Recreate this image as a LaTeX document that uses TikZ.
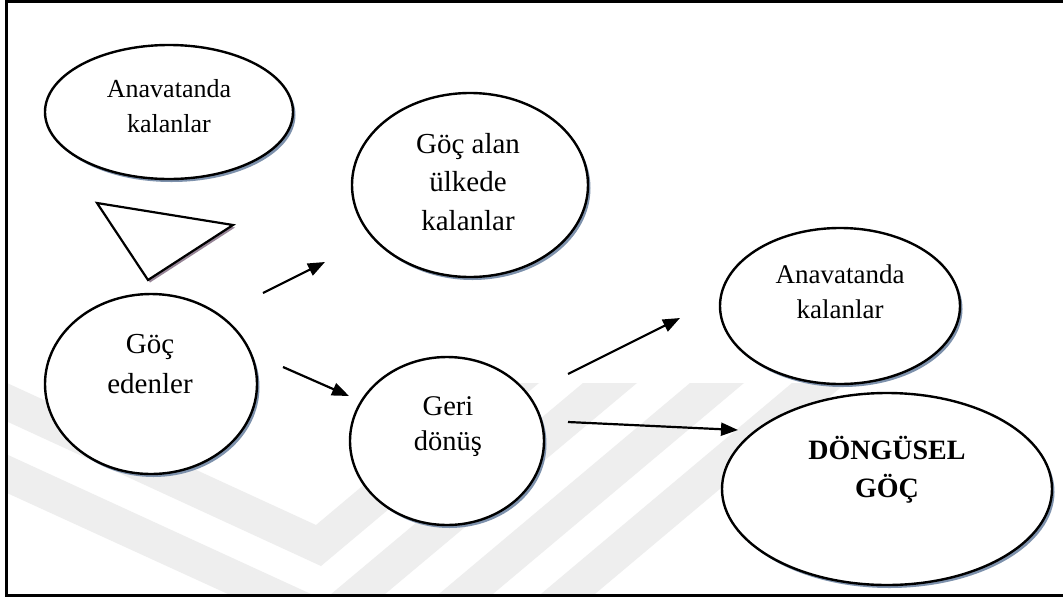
\documentclass[tikz,border=0pt]{standalone}
\usepackage{fontspec}
\setmainfont{Liberation Serif}
\usetikzlibrary{shapes.geometric,arrows.meta,shadows}
\definecolor{shadowc}{RGB}{125,145,172}
\definecolor{trishadow}{RGB}{150,132,150}
\definecolor{wmark}{RGB}{238,238,238}
\begin{document}
\begin{tikzpicture}[x=1pt,y=-1pt,
  bubble/.style={ellipse, draw, line width=2.4pt, fill=white, inner sep=0pt,
    drop shadow={shadow xshift=2.5pt, shadow yshift=-3pt, fill=shadowc, opacity=1}},
  lbl/.style={align=center, anchor=base, inner sep=0pt},
  arr/.style={line width=2.2pt, -{Triangle[length=17pt,width=13pt]}},
  wm/.style={fill=wmark, draw=none}]
\useasboundingbox (0,0) rectangle (1063,598);
\fill[white] (0,0) rectangle (1063,598);
% faint background watermark
\begin{scope}
\clip (8,383) rectangle (1062,594);
\fill[wm] (7,383) -- (316,525) -- (485,383) -- (539,383) -- (321,566) -- (7,421.5) -- cycle;
\fill[wm] (7,454.5) -- (324,600) -- (583,383) -- (637,383) -- (329.6,640.5) -- (7,493) -- cycle;
\fill[wm] (690,383) -- (744,383) -- (470.3,613) -- (416.3,613) -- cycle;
\fill[wm] (792,383) -- (846,383) -- (572.3,613) -- (518.3,613) -- cycle;
\end{scope}
% frame
\draw[line width=3pt] (6.5,1.5) rectangle (1070,595);
% ellipses
\node[bubble, minimum width=248pt, minimum height=134pt] (anavL) at (169,112) {};
\node[bubble, minimum width=236pt, minimum height=184pt] (gocalan) at (470,185) {};
\node[bubble, minimum width=212pt, minimum height=180pt] (goced) at (151,384) {};
\node[bubble, minimum width=194pt, minimum height=168pt] (geri) at (447,441) {};
\node[bubble, minimum width=240pt, minimum height=156pt] (anavR) at (840,306) {};
\node[bubble, minimum width=330pt, minimum height=192pt] (dong) at (887,489) {};
% triangle
\draw[line width=2.2pt, line join=miter, fill=white,
  drop shadow={shadow xshift=2pt, shadow yshift=-2.5pt, fill=trishadow, opacity=1}]
  (97,203) coordinate (t1) -- (233,225) coordinate (t2) -- (148,280) coordinate (t3) -- cycle;
% labels (anchor = baseline of last line)
\node[lbl, font=\fontsize{26}{35}\selectfont] (tAnavL) at (169,132) {Anavatanda\\kalanlar};
\node[lbl, font=\fontsize{29}{38.5}\selectfont] (tGocalan) at (468,230) {Göç alan\\ülkede\\kalanlar};
\node[lbl, font=\fontsize{29}{40}\selectfont] (tGoced) at (150,393) {Göç\\edenler};
\node[lbl, font=\fontsize{28.5}{35}\selectfont] (tGeri) at (448,450) {Geri\\dönüş};
\node[lbl, font=\fontsize{27}{35}\selectfont] (tAnavR) at (840,318) {Anavatanda\\kalanlar};
\node[lbl, font=\fontsize{28}{38}\selectfont\bfseries] (tDong) at (887,497) {DÖNGÜSEL\\GÖÇ};
% arrows
\coordinate (a1s) at (263,293); \coordinate (a1e) at (325,262);
\coordinate (a2s) at (283,367); \coordinate (a2e) at (349,396);
\coordinate (a3s) at (568,374); \coordinate (a3e) at (680,318);
\coordinate (a4s) at (568,422); \coordinate (a4e) at (738,430);
\draw[arr] (a1s) -- (a1e);
\draw[arr] (a2s) -- (a2e);
\draw[arr] (a3s) -- (a3e);
\draw[arr] (a4s) -- (a4e);
\end{tikzpicture}
\end{document}
